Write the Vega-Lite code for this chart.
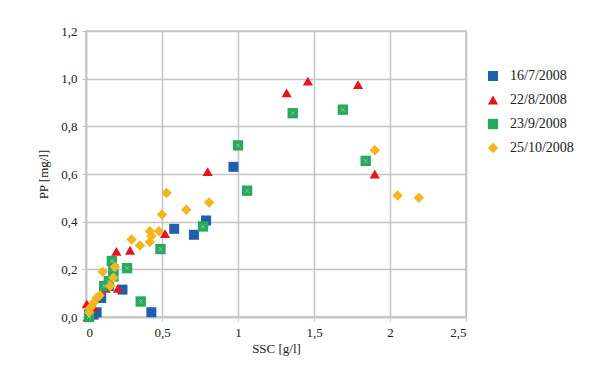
{
  "$schema": "https://vega.github.io/schema/vega-lite/v6.json",
  "width": 380,
  "height": 286,
  "autosize": {"type": "none"},
  "padding": {"left": 86, "top": 31, "right": 137, "bottom": 50},
  "background": "white",
  "config": {
    "locale": {"number": {"decimal": ",", "thousands": ".", "grouping": [3], "currency": ["", " €"]}},
    "font": "Times New Roman, serif",
    "view": {"stroke": "#c4c4c4", "strokeWidth": 1.5},
    "axis": {
      "labelFont": "Times New Roman, serif", "titleFont": "Times New Roman, serif",
      "labelFontSize": 13, "titleFontSize": 13, "labelColor": "#222", "titleColor": "#222",
      "titleFontWeight": "normal",
      "gridColor": "#c4c4c4", "gridWidth": 1.5,
      "domainColor": "#c4c4c4", "domainWidth": 1.5,
      "tickColor": "#c4c4c4", "tickSize": 4
    },
    "legend": {"labelFont": "Times New Roman, serif", "labelFontSize": 14, "labelColor": "#222"}
  },
  "data": {"values": [
    {"date": "16/7/2008", "ssc": 0.02, "pp": 0.01},
    {"date": "16/7/2008", "ssc": 0.05, "pp": 0.01},
    {"date": "16/7/2008", "ssc": 0.07, "pp": 0.02},
    {"date": "16/7/2008", "ssc": 0.10, "pp": 0.08},
    {"date": "16/7/2008", "ssc": 0.15, "pp": 0.13},
    {"date": "16/7/2008", "ssc": 0.24, "pp": 0.115},
    {"date": "16/7/2008", "ssc": 0.43, "pp": 0.02},
    {"date": "16/7/2008", "ssc": 0.58, "pp": 0.37},
    {"date": "16/7/2008", "ssc": 0.71, "pp": 0.345},
    {"date": "16/7/2008", "ssc": 0.79, "pp": 0.405},
    {"date": "16/7/2008", "ssc": 0.97, "pp": 0.63},
    {"date": "22/8/2008", "ssc": 0.005, "pp": 0.055},
    {"date": "22/8/2008", "ssc": 0.01, "pp": 0.0},
    {"date": "22/8/2008", "ssc": 0.03, "pp": 0.02},
    {"date": "22/8/2008", "ssc": 0.05, "pp": 0.04},
    {"date": "22/8/2008", "ssc": 0.13, "pp": 0.12},
    {"date": "22/8/2008", "ssc": 0.21, "pp": 0.12},
    {"date": "22/8/2008", "ssc": 0.20, "pp": 0.275},
    {"date": "22/8/2008", "ssc": 0.29, "pp": 0.28},
    {"date": "22/8/2008", "ssc": 0.52, "pp": 0.35},
    {"date": "22/8/2008", "ssc": 0.80, "pp": 0.61},
    {"date": "22/8/2008", "ssc": 1.32, "pp": 0.94},
    {"date": "22/8/2008", "ssc": 1.46, "pp": 0.99},
    {"date": "22/8/2008", "ssc": 1.79, "pp": 0.975},
    {"date": "22/8/2008", "ssc": 1.90, "pp": 0.60},
    {"date": "23/9/2008", "ssc": 0.02, "pp": 0.0},
    {"date": "23/9/2008", "ssc": 0.12, "pp": 0.13},
    {"date": "23/9/2008", "ssc": 0.15, "pp": 0.15},
    {"date": "23/9/2008", "ssc": 0.18, "pp": 0.17},
    {"date": "23/9/2008", "ssc": 0.18, "pp": 0.2},
    {"date": "23/9/2008", "ssc": 0.17, "pp": 0.235},
    {"date": "23/9/2008", "ssc": 0.27, "pp": 0.205},
    {"date": "23/9/2008", "ssc": 0.36, "pp": 0.065},
    {"date": "23/9/2008", "ssc": 0.49, "pp": 0.285},
    {"date": "23/9/2008", "ssc": 0.77, "pp": 0.38},
    {"date": "23/9/2008", "ssc": 1.0, "pp": 0.72},
    {"date": "23/9/2008", "ssc": 1.06, "pp": 0.53},
    {"date": "23/9/2008", "ssc": 1.36, "pp": 0.855},
    {"date": "23/9/2008", "ssc": 1.69, "pp": 0.87},
    {"date": "23/9/2008", "ssc": 1.84, "pp": 0.655},
    {"date": "25/10/2008", "ssc": 0.02, "pp": 0.02},
    {"date": "25/10/2008", "ssc": 0.03, "pp": 0.04},
    {"date": "25/10/2008", "ssc": 0.05, "pp": 0.06},
    {"date": "25/10/2008", "ssc": 0.07, "pp": 0.08},
    {"date": "25/10/2008", "ssc": 0.09, "pp": 0.09},
    {"date": "25/10/2008", "ssc": 0.11, "pp": 0.19},
    {"date": "25/10/2008", "ssc": 0.16, "pp": 0.13},
    {"date": "25/10/2008", "ssc": 0.18, "pp": 0.165},
    {"date": "25/10/2008", "ssc": 0.19, "pp": 0.21},
    {"date": "25/10/2008", "ssc": 0.30, "pp": 0.325},
    {"date": "25/10/2008", "ssc": 0.355, "pp": 0.30},
    {"date": "25/10/2008", "ssc": 0.42, "pp": 0.315},
    {"date": "25/10/2008", "ssc": 0.43, "pp": 0.34},
    {"date": "25/10/2008", "ssc": 0.42, "pp": 0.36},
    {"date": "25/10/2008", "ssc": 0.48, "pp": 0.36},
    {"date": "25/10/2008", "ssc": 0.50, "pp": 0.43},
    {"date": "25/10/2008", "ssc": 0.53, "pp": 0.52},
    {"date": "25/10/2008", "ssc": 0.66, "pp": 0.45},
    {"date": "25/10/2008", "ssc": 0.81, "pp": 0.48},
    {"date": "25/10/2008", "ssc": 1.90, "pp": 0.70},
    {"date": "25/10/2008", "ssc": 2.05, "pp": 0.51},
    {"date": "25/10/2008", "ssc": 2.19, "pp": 0.50}
  ]},
  "encoding": {
    "x": {"field": "ssc", "type": "quantitative", "title": "SSC [g/l]",
      "scale": {"domain": [0, 2.5], "nice": false},
      "axis": {"values": [0, 0.5, 1, 1.5, 2, 2.5], "format": "~f", "labelPadding": 5, "titlePadding": 3}},
    "y": {"field": "pp", "type": "quantitative", "title": "PP [mg/l]",
      "scale": {"domain": [0, 1.2], "nice": false},
      "axis": {"values": [0, 0.2, 0.4, 0.6, 0.8, 1.0, 1.2], "format": ".1f", "labelPadding": 5, "titlePadding": 10}}
  },
  "layer": [
    {
      "mark": {"type": "point", "filled": true, "opacity": 1, "clip": false},
      "encoding": {
        "color": {"field": "date", "type": "nominal",
          "scale": {"domain": ["16/7/2008", "22/8/2008", "23/9/2008", "25/10/2008"],
                    "range": ["#1f5fae", "#e8141c", "#27a85c", "#f5b51e"]},
          "legend": {"title": null, "orient": "none", "legendX": 400, "legendY": 38, "symbolSize": 60, "rowPadding": 10, "labelOffset": 10, "padding": 0}},
        "shape": {"field": "date", "type": "nominal",
          "scale": {"domain": ["16/7/2008", "22/8/2008", "23/9/2008", "25/10/2008"],
                    "range": ["square", "triangle-up", "square", "diamond"]}},
        "size": {"field": "date", "type": "nominal", "legend": null,
          "scale": {"domain": ["16/7/2008", "22/8/2008", "23/9/2008", "25/10/2008"],
                    "range": [100, 110, 140, 120]}}
      }
    },
    {
      "transform": [{"filter": "datum.date === '23/9/2008'"}],
      "mark": {"type": "point", "filled": false, "shape": "M-0.35,-0.35L0.35,0.35M-0.35,0.35L0.35,-0.35", "stroke": "#9fdcb4", "strokeWidth": 1, "size": 140, "clip": false}
    }
  ]
}
